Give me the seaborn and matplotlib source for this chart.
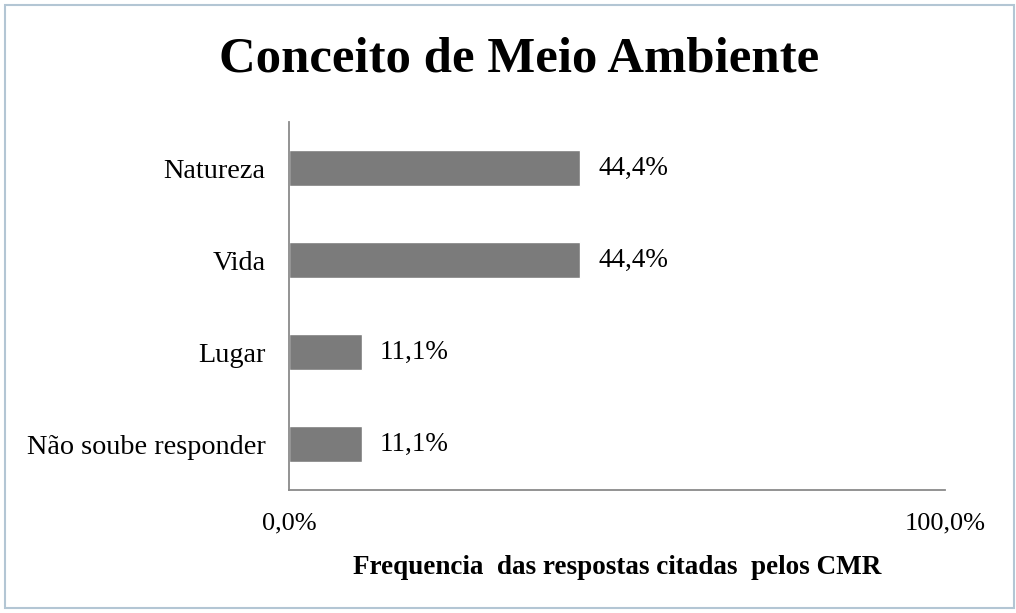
import matplotlib
matplotlib.use("Agg")
import matplotlib.pyplot as plt
import seaborn as sns
import pandas as pd
from matplotlib.patches import Rectangle

categories = ["Natureza", "Vida", "Lugar", "Não soube responder"]
values = [44.4, 44.4, 11.1, 11.1]
value_labels = ["44,4%", "44,4%", "11,1%", "11,1%"]
xtick_values = [0, 100]
xtick_labels = ["0,0%", "100,0%"]
title = "Conceito de Meio Ambiente"
xlabel = "Frequencia  das respostas citadas  pelos CMR"

sns.set_theme(style="white")
plt.rcParams["font.family"] = ["Liberation Serif", "DejaVu Serif"]
plt.rcParams["text.color"] = "black"
plt.rcParams["xtick.color"] = "black"
plt.rcParams["ytick.color"] = "black"
plt.rcParams["axes.labelcolor"] = "black"

df = pd.DataFrame({"categoria": categories, "valor": values})

fig = plt.figure(figsize=(10.16, 6.13), dpi=100)
ax = fig.add_axes([289/1016, 1-490/613, (945-289)/1016, (490-122)/613])

sns.barplot(data=df, y="categoria", x="valor", orient="h", color="#7b7b7b",
            saturation=1, width=0.39, ax=ax)

ax.set_xlim(0, 100)
ax.set_ylim(3.5, -0.5)
ax.set_xticks(xtick_values)
ax.set_xticklabels(xtick_labels, fontsize=19)
ax.tick_params(axis="x", length=0, pad=16)
ax.tick_params(axis="y", length=0, pad=17, labelsize=20.3)
ax.set_ylabel("")
ax.set_xlabel(xlabel, fontsize=19.5, fontweight="bold", labelpad=15)

for s in ["top", "right"]:
    ax.spines[s].set_visible(False)
for s in ["left", "bottom"]:
    ax.spines[s].set_color("#8a8a8a")
    ax.spines[s].set_linewidth(1.3)

ax.bar_label(ax.containers[0], labels=value_labels, padding=13, fontsize=19.5)

fig.text(0.511, 1-60/613, title, ha="center", va="center",
         fontsize=36.5, fontweight="bold")

fig.patches.append(Rectangle((5/1016, 5/613), 1009/1016, 603/613,
                             transform=fig.transFigure, fill=False,
                             edgecolor="#b3c6d4", linewidth=1.5))

fig.savefig("out.png", dpi=100)
